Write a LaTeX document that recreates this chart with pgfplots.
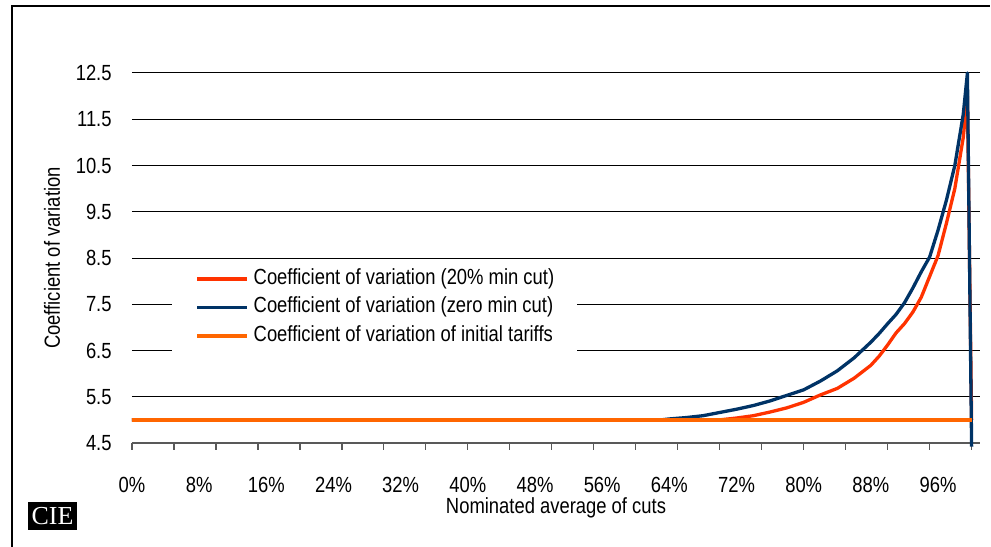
\documentclass[border=0pt]{standalone}
\usepackage{fontspec}
\setmainfont{Liberation Sans}[FakeStretch=0.84]
\newfontfamily\logofont{Liberation Serif}
\usepackage{pgfplots}
\pgfplotsset{compat=1.18}
\definecolor{cvred}{HTML}{FF3300}
\definecolor{cvblue}{HTML}{003366}
\definecolor{cvorange}{HTML}{FF6600}
\begin{document}
\fontsize{11}{13}\selectfont
\begin{tikzpicture}
\useasboundingbox (-66bp,-52bp) rectangle (429.5bp,221.5bp);
\draw[line width=0.6bp] (-60bp,-52bp) -- (-60bp,218.5bp) -- (429bp,218.5bp);
\begin{axis}[
  at={(0,0)}, anchor=south west,
  scale only axis, width=424bp, height=185bp,
  xmin=0, xmax=101, ymin=4.5, ymax=12.5,
  axis lines*=left,
  axis line style={-},
  x axis line style={draw=gray!70!black, line width=0.6bp},
  y axis line style={draw=none},
  ymajorgrids,
  grid style={black, line width=0.5bp},
  ytick={4.5,5.5,6.5,7.5,8.5,9.5,10.5,11.5,12.5},
  yticklabels={4.5,5.5,6.5,7.5,8.5,9.5,10.5,11.5,12.5},
  xtick={0,8,16,24,32,40,48,56,64,72,80,88,96},
  xticklabels={0\%,8\%,16\%,24\%,32\%,40\%,48\%,56\%,64\%,72\%,80\%,88\%,96\%},
  minor xtick={0,5,...,100},
  major tick length=0pt, minor tick length=3.3bp, tick align=outside,
  minor tick style={gray!70!black, line width=0.6bp},
  xticklabel style={anchor=center, yshift=-21bp},
  yticklabel style={anchor=east, inner sep=0pt, xshift=-10bp},
  xlabel={Nominated average of cuts},
  ylabel={Coefficient of variation},
  xlabel style={at={(axis description cs:0.5,-0.1757)}, anchor=center},
  ylabel style={at={(axis description cs:-0.0943,0.5)}, anchor=center},
  clip=false,
  every axis plot/.append style={line width=1.65bp, line join=round},
  legend image code/.code={\draw[#1] (0bp,0bp) -- (25bp,0bp);},
  legend cell align=left,
  legend style={at={(axis description cs:0.0472,0.4946)}, anchor=north west,
    draw=none, fill=white, inner xsep=11.5bp, inner ysep=4bp,
    row sep=3.75bp, column sep=2.5bp,
    nodes={inner sep=0pt, text height=8bp, text depth=2.5bp}},
]
\addplot[cvred] coordinates {
(0,5.0) (70,5.0) (71,5.02) (72,5.04) (74,5.09) (76,5.17) (78,5.26) (80,5.38)
(82,5.54) (84,5.68) (86,5.90) (88,6.18) (89,6.38) (90,6.62) (91,6.88) (92,7.08)
(93,7.33) (94,7.65) (95,8.10) (96,8.55) (97,9.25) (98,10.0) (99,11.1) (99.5,12.0) (100,5.0)};
\addlegendentry{Coefficient of variation (20\% min cut)}
\addplot[cvblue] coordinates {
(0,5.0) (63,5.0) (64,5.02) (66,5.05) (68,5.09) (70,5.16) (72,5.23) (74,5.31)
(76,5.41) (78,5.53) (80,5.65) (82,5.84) (84,6.06) (86,6.34) (88,6.68) (89,6.87)
(90,7.08) (91,7.28) (92,7.53) (93,7.85) (94,8.2) (95,8.52) (96,9.1) (97,9.75)
(98,10.5) (99,11.6) (99.5,12.5) (100,4.42)};
\addlegendentry{Coefficient of variation (zero min cut)}
\addplot[cvorange] coordinates {(0,5.0) (100,5.0)};
\addlegendentry{Coefficient of variation of initial tariffs}
\end{axis}
\node[fill=black, text=white, inner sep=0pt, minimum width=24.5bp, minimum height=14bp,
  font=\logofont\fontsize{13}{13}\selectfont] at (-39.75bp,-36.5bp) {CIE};
\end{tikzpicture}
\end{document}
